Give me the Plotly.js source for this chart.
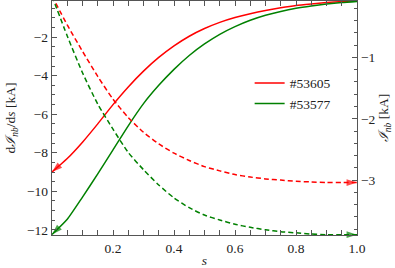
<!DOCTYPE html>
<html><head><meta charset="utf-8">
<script src="https://cdn.plot.ly/plotly-3.0.1.min.js"></script>
<style>html,body{margin:0;padding:0;background:#fff}</style>
</head><body><div id="plot" style="width:395px;height:268px"></div>
<script>
const s = [0,0.05,0.1,0.15,0.2,0.25,0.3,0.35,0.4,0.45,0.5,0.55,0.6,0.65,0.7,0.75,0.8,0.85,0.9,0.95,1.0];
const dIds_53605 = [-9.0,-8.3,-7.45,-6.5,-5.5,-4.58,-3.76,-3.05,-2.45,-1.95,-1.55,-1.23,-0.98,-0.78,-0.61,-0.47,-0.35,-0.27,-0.2,-0.15,-0.11];
const dIds_53577 = [-12.24,-11.45,-10.3,-9.1,-7.85,-6.6,-5.45,-4.5,-3.67,-2.95,-2.35,-1.85,-1.45,-1.12,-0.86,-0.66,-0.5,-0.38,-0.28,-0.2,-0.14];
const Inb_53605 = [0,-0.47,-0.90,-1.31,-1.68,-1.98,-2.22,-2.41,-2.56,-2.68,-2.78,-2.85,-2.91,-2.95,-2.98,-3.00,-3.02,-3.03,-3.04,-3.04,-3.04];
const Inb_53577 = [0,-0.65,-1.25,-1.76,-2.17,-2.55,-2.83,-3.08,-3.29,-3.45,-3.57,-3.65,-3.72,-3.77,-3.81,-3.84,-3.86,-3.88,-3.89,-3.89,-3.89];
const shots = ['#53605', '#53577'];
const colors = ['#ff0000', '#008000'];
const xTickVals = [0.2,0.4,0.6,0.8,1.0];
const xTickText = ['0.2','0.4','0.6','0.8','1.0'];
const yTickVals = [-2,-4,-6,-8,-10,-12];
const y2TickVals = [-1,-2,-3];

const FONT = 'Liberation Serif, Times New Roman, serif';
function arrowSizes(n, idx, sz){ const a = new Array(n).fill(0); a[idx] = sz; return a; }

const traces = [];
const solidSeries = [dIds_53605, dIds_53577];
const dashSeries = [Inb_53605, Inb_53577];
for (let i = 0; i < 2; i++) {
  // solid, drawn from s=1 toward s=0 so the arrow points to the left axis
  const xs = s.slice().reverse();
  const ys = solidSeries[i].slice().reverse();
  traces.push({
    x: xs, y: ys, yaxis: 'y', mode: 'lines+markers', showlegend: false, cliponaxis: false,
    line: {color: colors[i], width: 1.5, shape: 'spline', smoothing: 0.6},
    marker: {symbol: 'arrow', angleref: 'previous', size: arrowSizes(xs.length, xs.length - 1, 11), color: colors[i], line: {width: 0}}
  });
  traces.push({
    x: s, y: dashSeries[i], yaxis: 'y2', mode: 'lines+markers', showlegend: false, cliponaxis: false,
    line: {color: colors[i], width: 1.5, dash: '5px,3px', shape: 'spline', smoothing: 0.6},
    marker: {symbol: 'arrow', angleref: 'previous', size: arrowSizes(s.length, s.length - 1, 11), color: colors[i], line: {width: 0}}
  });
}
for (let i = 0; i < 2; i++) {
  traces.push({x: [null], y: [null], mode: 'lines', name: shots[i], showlegend: true,
    line: {color: colors[i], width: 1.5}});
}

const axisCommon = {
  showgrid: false, zeroline: false, showline: true, linecolor: '#555', linewidth: 1.3,
  ticks: 'inside', ticklen: 5, tickwidth: 1, tickcolor: '#555',
  tickfont: {family: FONT, size: 13.5, color: '#222'}
};

const layout = {
  width: 395, height: 268,
  margin: {l: 52, r: 38, t: 1, b: 33},
  paper_bgcolor: '#fff', plot_bgcolor: '#fff',
  font: {family: FONT, size: 13.5, color: '#222'},
  showlegend: true,
  legend: {x: 0.648, xanchor: 'left', y: 0.715, yanchor: 'top', bgcolor: 'rgba(0,0,0,0)', borderwidth: 0,
    font: {family: FONT, size: 13.5, color: '#222'}, tracegroupgap: 0},
  xaxis: Object.assign({}, axisCommon, {
    range: [0, 1], tickvals: xTickVals, ticktext: xTickText, mirror: 'allticks',
    minor: {dtick: 0.05, ticks: 'inside', ticklen: 3, tickcolor: '#555'},
    title: {text: '<i>s</i>', standoff: 6, font: {family: FONT, size: 13.5, color: '#222'}}
  }),
  yaxis: Object.assign({}, axisCommon, {
    range: [-12.27, -0.12], tickvals: yTickVals,
    minor: {dtick: 0.5, tick0: 0, ticks: 'inside', ticklen: 3, tickcolor: '#555'},
    title: {text: 'd<i>ℐ</i><sub><i>nb</i></sub>/d<i>s</i> [kA]', standoff: 8, font: {family: FONT, size: 13.5, color: '#222'}}
  }),
  yaxis2: Object.assign({}, axisCommon, {
    overlaying: 'y', side: 'right', range: [-3.895, -0.08], tickvals: y2TickVals,
    minor: {dtick: 0.2, tick0: 0, ticks: 'inside', ticklen: 3, tickcolor: '#555'},
    title: {text: '<i>ℐ</i><sub><i>nb</i></sub> [kA]', standoff: 4, font: {family: FONT, size: 13.5, color: '#222'}}
  })
};

Plotly.newPlot('plot', traces, layout, {staticPlot: true, displayModeBar: false});
</script>
</body></html>
